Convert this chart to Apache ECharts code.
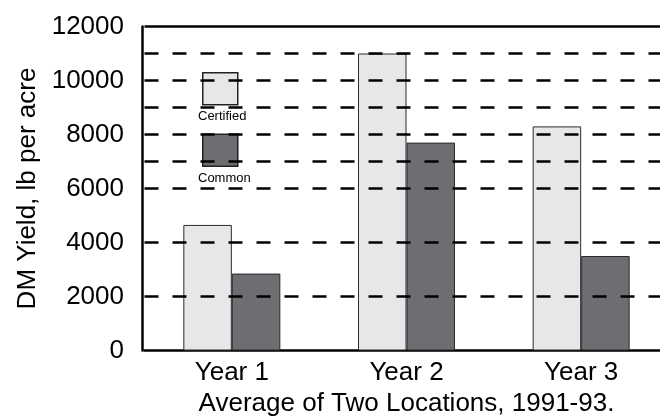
<!DOCTYPE html>
<html>
<head>
<meta charset="utf-8">
<script src="https://cdn.jsdelivr.net/npm/echarts@6/dist/echarts.min.js"></script>
<style>
  html, body { margin: 0; padding: 0; background: #fff; }
  #chart { width: 660px; height: 416px; }
</style>
</head>
<body>
<div id="chart"></div>
<script>
// Dry-matter yield by year, averaged over two locations
const categories = ['Year 1', 'Year 2', 'Year 3'];
const seriesNames = ['Certified', 'Common'];
const certified = [4650, 11000, 8300];
const common = [2850, 7700, 3500];
const yTicks = [0, 2000, 4000, 6000, 8000, 10000, 12000];
const dashedLevels = [2000, 4000, 6000, 7000, 8000, 9000, 10000, 11000];
const topLevel = 12000;

const FONT = '"Liberation Sans", Arial, Helvetica, sans-serif';
const chart = echarts.init(document.getElementById('chart'), null, { renderer: 'canvas' });

const gridLines = dashedLevels.map(v => ({ yAxis: v }))
  .concat([{ yAxis: topLevel, lineStyle: { type: 'solid', width: 2.5, color: '#000' } }]);

chart.setOption({
  animation: false,
  backgroundColor: '#fff',
  textStyle: { fontFamily: FONT, color: '#000' },
  // plot runs past the right edge of the canvas
  grid: {
    left: 144.5, width: 524, top: 26.5, bottom: 65.5,
    containLabel: false, outerBoundsMode: 'none'
  },
  legend: {
    data: seriesNames,
    orient: 'vertical',
    left: 197,
    top: 67,
    icon: 'rect',
    itemWidth: 35,
    itemHeight: 32,
    itemGap: 28,
    formatter: () => '',
    selectedMode: false,
    itemStyle: { borderColor: '#222', borderWidth: 1.5 },
    textStyle: { fontSize: 1 }
  },
  xAxis: {
    type: 'category',
    data: categories,
    axisTick: { show: false },
    axisLine: { lineStyle: { color: '#000', width: 2.5 } },
    axisLabel: { fontSize: 26, color: '#000', margin: 9, fontFamily: FONT },
    name: 'Average of Two Locations, 1991-93.',
    nameLocation: 'middle',
    nameGap: 39,
    nameTextStyle: { fontSize: 26, color: '#000', fontFamily: FONT }
  },
  yAxis: {
    type: 'value',
    min: yTicks[0],
    max: yTicks[yTicks.length - 1],
    interval: yTicks[1] - yTicks[0],
    offset: 2.5,
    axisLine: { show: true, lineStyle: { color: '#000', width: 2.5 } },
    axisTick: { show: false },
    splitLine: { show: false },
    axisLabel: { fontSize: 26, color: '#000', margin: 18, fontFamily: FONT, formatter: v => String(v) },
    name: 'DM Yield, lb per acre',
    nameLocation: 'middle',
    nameRotate: 90,
    nameGap: 96,
    nameTextStyle: { fontSize: 26, color: '#000', fontFamily: FONT }
  },
  series: [
    {
      name: 'levels',
      type: 'line',
      data: [],
      z: 1,
      silent: true,
      markLine: {
        silent: true,
        symbol: ['none', 'none'],
        label: { show: false },
        lineStyle: { color: '#000', width: 2.5, type: [14, 14] },
        emphasis: { disabled: true },
        data: gridLines
      }
    },
    {
      name: seriesNames[0],
      type: 'bar',
      data: certified,
      barWidth: 48.5,
      barGap: '0%',
      z: 2,
      itemStyle: { color: '#e6e7e8', borderColor: '#2b2b2b', borderWidth: 1 }
    },
    {
      name: seriesNames[1],
      type: 'bar',
      data: common,
      barWidth: 48.5,
      barGap: '0%',
      z: 2,
      itemStyle: { color: '#6d6e71', borderColor: '#2b2b2b', borderWidth: 1 }
    }
  ],
  graphic: [
    {
      type: 'text', left: 198, top: 110, z: 10,
      style: { text: seriesNames[0], font: '13px ' + FONT, fill: '#000' }
    },
    {
      type: 'text', left: 198, top: 172, z: 10,
      style: { text: seriesNames[1], font: '13px ' + FONT, fill: '#000' }
    }
  ]
});
</script>
</body>
</html>
